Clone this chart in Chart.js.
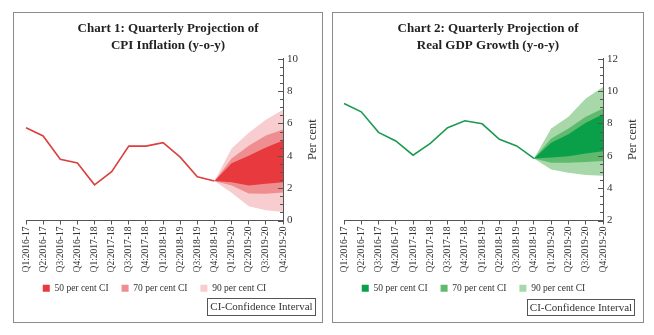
<!DOCTYPE html>
<html>
<head>
<meta charset="utf-8">
<script src="https://cdn.jsdelivr.net/npm/chart.js@4.4.1/dist/chart.umd.min.js"></script>
<style>
  body { margin: 0; background: #fff; width: 654px; height: 335px; position: relative; overflow: hidden; }
  .panel { position: absolute; top: 12px; height: 311px; border: 1px solid #8c8c8c; box-sizing: border-box; }
  .panel canvas { position: absolute; left: 0; top: 0; }
  .ci-box { position: absolute; border: 1px solid #555; box-sizing: border-box; font: 11px "Liberation Serif", serif;
    color: #333; text-align: center; line-height: 15px; white-space: nowrap; }
</style>
</head>
<body>
<div class="panel" style="left:13px; width:310px;">
  <canvas id="graficoIPC" width="308" height="309"></canvas>
  <div class="ci-box" style="left:193px; top:285px; width:109px; height:18px;">CI-Confidence Interval</div>
</div>
<div class="panel" style="left:332px; width:312px;">
  <canvas id="graficoPIB" width="310" height="309"></canvas>
  <div class="ci-box" style="left:194px; top:286px; width:108px; height:17px;">CI-Confidence Interval</div>
</div>
<script>
const trimestres = ['Q1:2016-17', 'Q2:2016-17', 'Q3:2016-17', 'Q4:2016-17',
  'Q1:2017-18', 'Q2:2017-18', 'Q3:2017-18', 'Q4:2017-18',
  'Q1:2018-19', 'Q2:2018-19', 'Q3:2018-19', 'Q4:2018-19',
  'Q1:2019-20', 'Q2:2019-20', 'Q3:2019-20', 'Q4:2019-20'];

// Inflación IPC observada (hasta Q4:2018-19)
const ipcReal = [5.73, 5.23, 3.79, 3.56, 2.21, 3.02, 4.60, 4.60, 4.81, 3.92, 2.71, 2.44];
// Bandas de proyección desde Q4:2018-19
const ipc50Sup = [2.44, 3.54, 4.00, 4.52, 4.94];
const ipc50Inf = [2.44, 2.37, 2.17, 2.27, 2.37];
const ipc70Sup = [2.44, 3.83, 4.63, 5.25, 5.62];
const ipc70Inf = [2.44, 2.17, 1.67, 1.65, 1.73];
const ipc90Sup = [2.44, 4.46, 5.42, 6.23, 6.85];
const ipc90Inf = [2.44, 1.71, 0.88, 0.63, 0.52];

// Crecimiento PIB real observado
const pibReal = [9.23, 8.72, 7.45, 6.92, 6.04, 6.77, 7.74, 8.17, 7.98, 7.02, 6.61, 5.84];
const pib50Sup = [5.84, 6.81, 7.34, 8.04, 8.57];
const pib50Inf = [5.84, 5.90, 5.98, 6.15, 6.29];
const pib70Sup = [5.84, 7.07, 7.69, 8.41, 8.92];
const pib70Inf = [5.84, 5.57, 5.57, 5.62, 5.68];
const pib90Sup = [5.84, 7.69, 8.41, 9.54, 10.26];
const pib90Inf = [5.84, 5.16, 4.96, 4.82, 4.77];

const ticksIPC = [0, 2, 4, 6, 8, 10];
const ticksPIB = [2, 4, 6, 8, 10, 12];

const FUENTE = '"Liberation Serif", serif';

// Rellena con null hasta el inicio de la proyección
function proyeccion(valores) {
  return Array(trimestres.length - valores.length).fill(null).concat(valores);
}

function banda(etiqueta, sup, inf, color) {
  return [
    { label: etiqueta, data: proyeccion(sup), backgroundColor: color, borderColor: 'transparent',
      borderWidth: 0, pointRadius: 0, fill: '+1' },
    { label: '', data: proyeccion(inf), backgroundColor: color, borderColor: 'transparent',
      borderWidth: 0, pointRadius: 0, fill: false }
  ];
}

// Marcas del eje Y hacia dentro, mayores cada 2 y menores cada 0,5
const marcasEjeY = {
  id: 'marcasEjeY',
  afterLayout(chart) {
    // sube un poco la leyenda, pegada a las etiquetas del eje X
    chart.legend.top -= 4;
    chart.legend.bottom -= 4;
  },
  afterDraw(chart) {
    const esc = chart.scales.y;
    const ctx = chart.ctx;
    ctx.save();
    ctx.strokeStyle = '#555';
    ctx.lineWidth = 1;
    esc.ticks.forEach(t => {
      const y = Math.round(esc.getPixelForValue(t.value)) + 0.5;
      const largo = t.value % 2 === 0 ? 5 : 3;
      ctx.beginPath();
      ctx.moveTo(esc.left, y);
      ctx.lineTo(esc.left - largo, y);
      ctx.stroke();
    });
    // Título "Per cent" leído de abajo hacia arriba
    ctx.fillStyle = '#333';
    ctx.font = '12.5px ' + FUENTE;
    ctx.textAlign = 'center';
    ctx.textBaseline = 'middle';
    ctx.translate(esc.left + 30, (chart.chartArea.top + chart.chartArea.bottom) / 2);
    ctx.rotate(-Math.PI / 2);
    ctx.fillText('Per cent', 0, 0);
    ctx.restore();
  }
};

function dibujarGrafico(id, titulo, real, bandas, colorLinea, yMin, yMax, etiquetasY, margen, anchoY) {
  const ctx = document.getElementById(id).getContext('2d');
  return new Chart(ctx, {
    type: 'line',
    data: {
      labels: trimestres,
      datasets: [
        { label: '', data: real, borderColor: colorLinea, borderWidth: 1.6, pointRadius: 0,
          fill: false, tension: 0 },
        ...banda('50 per cent CI', bandas[0], bandas[1], bandas[6]),
        ...banda('70 per cent CI', bandas[2], bandas[3], bandas[7]),
        ...banda('90 per cent CI', bandas[4], bandas[5], bandas[8])
      ]
    },
    options: {
      responsive: false,
      animation: false,
      layout: { padding: { left: margen, right: margen, top: 0, bottom: 15 } },
      plugins: {
        title: {
          display: true,
          text: titulo,
          color: '#222',
          font: { family: FUENTE, size: 13, weight: 'bold', lineHeight: 1.3 },
          padding: { top: 7, bottom: 5 }
        },
        legend: {
          position: 'bottom',
          fullSize: false,
          labels: {
            filter: item => item.text !== '',
            boxWidth: 7,
            boxHeight: 7,
            padding: 13,
            color: '#333',
            font: { family: FUENTE, size: 9.5 }
          }
        },
        tooltip: { enabled: false }
      },
      scales: {
        x: {
          offset: false,
          grid: { drawOnChartArea: false, color: '#555', tickLength: 4 },
          border: { color: '#555' },
          afterFit: esc => { esc.height = 54; },
          ticks: { autoRotation: false, minRotation: 90, maxRotation: 90, autoSkip: false,
            padding: 2, color: '#333', font: { family: FUENTE, size: 9.5 } }
        },
        y: {
          position: 'right',
          min: yMin,
          max: yMax,
          grid: { drawOnChartArea: false, drawTicks: false },
          border: { display: true, color: '#555' },
          afterFit: esc => { esc.width = anchoY; },
          ticks: {
            stepSize: 0.5,
            autoSkip: false,
            padding: 4,
            color: '#333',
            font: { family: FUENTE, size: 11 },
            callback: v => (etiquetasY.includes(v) ? v : '')
          }
        }
      }
    },
    plugins: [marcasEjeY]
  });
}

dibujarGrafico('graficoIPC',
  ['Chart 1: Quarterly Projection of', 'CPI Inflation (y-o-y)'],
  ipcReal,
  [ipc50Sup, ipc50Inf, ipc70Sup, ipc70Inf, ipc90Sup, ipc90Inf, '#e8393e', '#ef8e90', '#f8cdd0'],
  '#d9403f', 0, 10, ticksIPC, 12, 27);

dibujarGrafico('graficoPIB',
  ['Chart 2: Quarterly Projection of', 'Real GDP Growth (y-o-y)'],
  pibReal,
  [pib50Sup, pib50Inf, pib70Sup, pib70Inf, pib90Sup, pib90Inf, '#0aa049', '#5fba6e', '#a8d8aa'],
  '#1c9a50', 2, 12, ticksPIB, 11, 29);
</script>
</body>
</html>
